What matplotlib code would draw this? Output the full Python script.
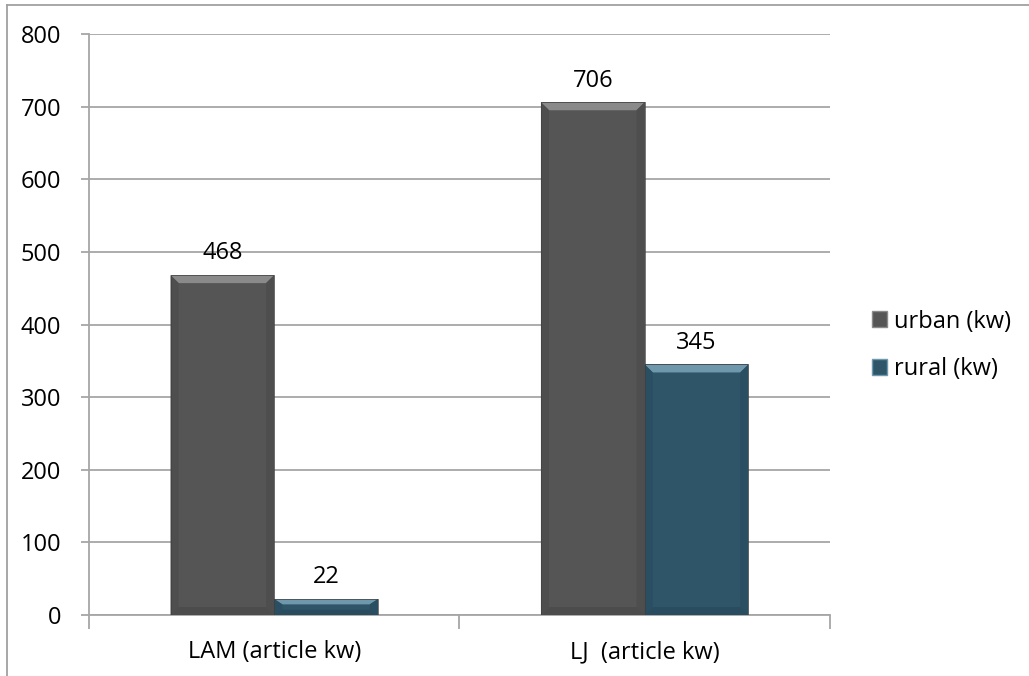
import numpy as np
import matplotlib.pyplot as plt
from matplotlib.patches import Polygon, Rectangle
from matplotlib.lines import Line2D

categories = ['LAM (article kw)', 'LJ  (article kw)']
urban = [468, 706]
rural = [22, 345]
series_names = ['urban (kw)', 'rural (kw)']

plt.rcParams['font.family'] = ['Open Sans', 'DejaVu Sans']

# face, top bevel, side bevel, bottom bevel
palette = {
    'urban': ('#555555', '#8a8a8a', '#4e4e4e', '#4c4c4c'),
    'rural': ('#2f5569', '#6f98ad', '#2b4f62', '#2a4c5f'),
}

fig = plt.figure(figsize=(10.29, 6.76), dpi=100)
ax = fig.add_axes([0.0865, 0.0902, 0.7200, 0.8595])

x = np.arange(len(categories))
width = 0.28

ax.set_xlim(-0.5, 1.5)
ax.set_ylim(0, 800)


def bevel_bar(ax, xc, h, colors):
    face, top, side, bottom = colors
    x0, x1 = xc - width / 2, xc + width / 2
    bx = 0.022
    by = min(11, h / 3)
    ax.add_patch(Rectangle((x0, 0), width, h, facecolor=face,
                           edgecolor='none', zorder=3))
    # top bevel
    ax.add_patch(Polygon([(x0, h), (x1, h), (x1 - bx, h - by), (x0 + bx, h - by)],
                         closed=True, facecolor=top, edgecolor='none', zorder=4))
    # side bevels
    ax.add_patch(Polygon([(x0, h), (x0 + bx, h - by), (x0 + bx, by), (x0, 0)],
                         closed=True, facecolor=side, edgecolor='none', zorder=4))
    ax.add_patch(Polygon([(x1, h), (x1 - bx, h - by), (x1 - bx, by), (x1, 0)],
                         closed=True, facecolor=side, edgecolor='none', zorder=4))
    # bottom bevel
    ax.add_patch(Polygon([(x0, 0), (x1, 0), (x1 - bx, by), (x0 + bx, by)],
                         closed=True, facecolor=bottom, edgecolor='none', zorder=4))
    ax.add_patch(Rectangle((x0, 0), width, h, facecolor='none',
                           edgecolor='#404040', linewidth=0.5, zorder=5))
    ax.annotate(str(h), (xc, h), xytext=(0, 7), textcoords='offset points',
                ha='center', va='bottom', fontsize=17, color='black')


for i in range(len(categories)):
    bevel_bar(ax, x[i] - width / 2, urban[i], palette['urban'])
    bevel_bar(ax, x[i] + width / 2, rural[i], palette['rural'])

grid_color = '#a6a6a6'
ax.set_yticks(np.arange(0, 801, 100))
ax.yaxis.grid(True, color=grid_color, linewidth=1.3, zorder=0)
ax.set_axisbelow(True)

ax.set_xticks(x)
ax.set_xticklabels(categories, fontsize=17)
ax.set_xticks([-0.5, 0.5, 1.5], minor=True)
ax.tick_params(axis='x', which='major', length=0, pad=18)
ax.tick_params(axis='x', which='minor', length=10, color=grid_color, width=1.3)
ax.tick_params(axis='y', length=6, color=grid_color, width=1.3, labelsize=17, pad=14)

for s in ['top', 'right']:
    ax.spines[s].set_visible(False)
for s in ['left', 'bottom']:
    ax.spines[s].set_color(grid_color)
    ax.spines[s].set_linewidth(1.3)

handles = [Rectangle((0, 0), 1, 1, facecolor=palette['urban'][0], edgecolor=palette['urban'][1]),
           Rectangle((0, 0), 1, 1, facecolor=palette['rural'][0], edgecolor=palette['rural'][1])]
fig.legend(handles, series_names, loc='center left', bbox_to_anchor=(0.847, 0.489),
           frameon=False, fontsize=17, handlelength=0.65, handleheight=0.65,
           handletextpad=0.3, labelspacing=1.0, borderpad=0, borderaxespad=0)

# outer chart frame
fig.add_artist(Line2D([0.0068, 0.0068], [0, 0.9926], color='#a0a0a0', linewidth=1.3))
fig.add_artist(Line2D([0.0068, 1], [0.9926, 0.9926], color='#a0a0a0', linewidth=1.3))

fig.savefig('out.png', dpi=100)
